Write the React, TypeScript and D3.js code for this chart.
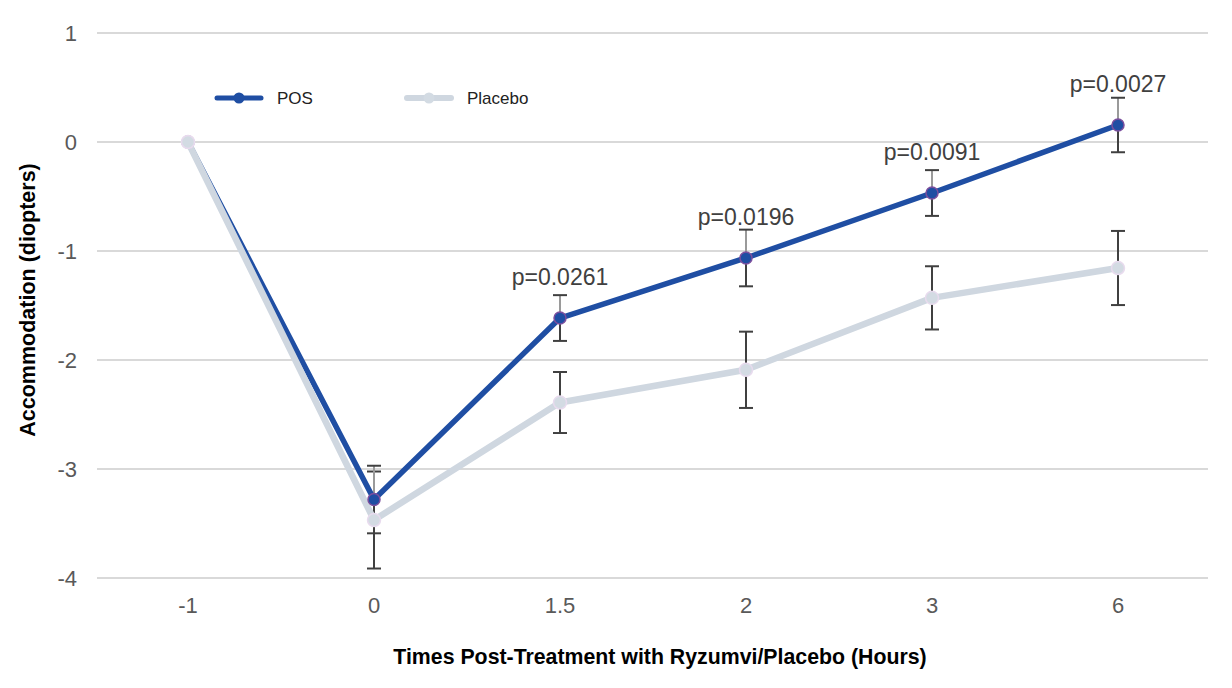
import { useEffect, useRef } from 'react';
import * as d3 from 'd3';

// time points (hours) shown as categories on the x axis
const timePoints = ['-1', '0', '1.5', '2', '3', '6'];

// mean change in accommodation (diopters)
const posMeans = [0, -3.28, -1.615, -1.064, -0.468, 0.156];
const placeboMeans = [0, -3.468, -2.39, -2.09, -1.43, -1.156];

// half-width of the error bars (diopters); null = no bar
const posErrors = [null, 0.31, 0.21, 0.26, 0.21, 0.25];
const placeboErrors = [null, 0.445, 0.28, 0.35, 0.29, 0.34];

// p-values written above the POS points
const pValues = [null, null, 'p=0.0261', 'p=0.0196', 'p=0.0091', 'p=0.0027'];

const yTicks = [1, 0, -1, -2, -3, -4];

const POS_COLOR = '#1f4ea3';
const PLACEBO_COLOR = '#cfd7e0';
const FONT = 'Arial, "Liberation Sans", sans-serif';

const WIDTH = 1232;
const HEIGHT = 688;

const App = () => {
  const svgRef = useRef<SVGSVGElement>(null);

  useEffect(() => {
    if (!svgRef.current) return;
    const svg = d3.select(svgRef.current);
    svg.selectAll('*').remove();

    const x = d3.scalePoint<string>()
      .domain(timePoints)
      .range([95, 1211])
      .padding(0.5);

    const y = d3.scaleLinear()
      .domain([-4, 1])
      .range([578, 33]);

    svg.append('rect')
      .attr('width', WIDTH)
      .attr('height', HEIGHT)
      .attr('fill', '#fff');

    // gridlines
    svg.append('g')
      .selectAll('line')
      .data(yTicks)
      .enter()
      .append('line')
      .attr('x1', 97)
      .attr('x2', 1208)
      .attr('y1', d => y(d))
      .attr('y2', d => y(d))
      .attr('stroke', '#d9d9d9')
      .attr('stroke-width', 2);

    // y tick labels
    svg.append('g')
      .selectAll('text')
      .data(yTicks)
      .enter()
      .append('text')
      .attr('x', 77)
      .attr('y', d => y(d))
      .attr('dy', '0.36em')
      .attr('text-anchor', 'end')
      .attr('font-family', FONT)
      .attr('font-size', 22)
      .attr('fill', '#595959')
      .text(d => d);

    // x tick labels
    svg.append('g')
      .selectAll('text')
      .data(timePoints)
      .enter()
      .append('text')
      .attr('x', d => x(d) || 0)
      .attr('y', 613)
      .attr('text-anchor', 'middle')
      .attr('font-family', FONT)
      .attr('font-size', 22)
      .attr('fill', '#595959')
      .text(d => d);

    // axis titles
    svg.append('text')
      .attr('x', 660)
      .attr('y', 664)
      .attr('text-anchor', 'middle')
      .attr('font-family', FONT)
      .attr('font-size', 21.3)
      .attr('font-weight', 'bold')
      .attr('fill', '#000')
      .text('Times Post-Treatment with Ryzumvi/Placebo (Hours)');

    svg.append('text')
      .attr('transform', 'translate(35,300) rotate(-90)')
      .attr('text-anchor', 'middle')
      .attr('font-family', FONT)
      .attr('font-size', 21.5)
      .attr('font-weight', 'bold')
      .attr('fill', '#000')
      .text('Accommodation (diopters)');

    // error bars
    const drawErrors = (means: number[], errors: (number | null)[], upColor: string) => {
      const g = svg.append('g');
      timePoints.forEach((t, i) => {
        const e = errors[i];
        if (e == null) return;
        const cx = x(t) || 0;
        const parts = [
          { from: means[i], to: means[i] + e, color: upColor },
          { from: means[i], to: means[i] - e, color: '#404040' }
        ];
        parts.forEach(p => {
          g.append('line')
            .attr('x1', cx).attr('x2', cx)
            .attr('y1', y(p.from)).attr('y2', y(p.to))
            .attr('stroke', p.color)
            .attr('stroke-width', 2);
          g.append('line')
            .attr('x1', cx - 7).attr('x2', cx + 7)
            .attr('y1', y(p.to)).attr('y2', y(p.to))
            .attr('stroke', '#404040')
            .attr('stroke-width', 2);
        });
      });
    };
    drawErrors(placeboMeans, placeboErrors, '#404040');
    drawErrors(posMeans, posErrors, '#9a9a9a');

    const line = d3.line<number>()
      .x((_, i) => x(timePoints[i]) || 0)
      .y(d => y(d));

    svg.append('path')
      .datum(posMeans)
      .attr('d', line)
      .attr('fill', 'none')
      .attr('stroke', POS_COLOR)
      .attr('stroke-width', 5.5)
      .attr('stroke-linejoin', 'round');

    svg.append('path')
      .datum(placeboMeans)
      .attr('d', line)
      .attr('fill', 'none')
      .attr('stroke', PLACEBO_COLOR)
      .attr('stroke-width', 6.5)
      .attr('stroke-linejoin', 'round');

    // points
    svg.append('g')
      .selectAll('circle')
      .data(posMeans)
      .enter()
      .append('circle')
      .attr('cx', (_, i) => x(timePoints[i]) || 0)
      .attr('cy', d => y(d))
      .attr('r', 6)
      .attr('fill', POS_COLOR)
      .attr('stroke', '#7b4f9e')
      .attr('stroke-width', 1.5);

    svg.append('g')
      .selectAll('circle')
      .data(placeboMeans)
      .enter()
      .append('circle')
      .attr('cx', (_, i) => x(timePoints[i]) || 0)
      .attr('cy', d => y(d))
      .attr('r', 6.5)
      .attr('fill', '#d3dbe3')
      .attr('stroke', '#e8dbee')
      .attr('stroke-width', 1.5);

    // p-value labels
    svg.append('g')
      .selectAll('text')
      .data(pValues.map((p, i) => ({ p, i })).filter(d => d.p))
      .enter()
      .append('text')
      .attr('x', d => x(timePoints[d.i]) || 0)
      .attr('y', d => y(posMeans[d.i]) - 33)
      .attr('text-anchor', 'middle')
      .attr('font-family', FONT)
      .attr('font-size', 23)
      .attr('fill', '#404040')
      .text(d => d.p as string);

    // legend
    const legend = [
      { label: 'POS', color: POS_COLOR, x: 217, width: 5, dot: '#1f4ea3' },
      { label: 'Placebo', color: PLACEBO_COLOR, x: 407, width: 6, dot: '#d3dbe3' }
    ];
    const lg = svg.append('g');
    legend.forEach(l => {
      lg.append('line')
        .attr('x1', l.x).attr('x2', l.x + 44)
        .attr('y1', 98).attr('y2', 98)
        .attr('stroke', l.color)
        .attr('stroke-width', l.width)
        .attr('stroke-linecap', 'round');
      lg.append('circle')
        .attr('cx', l.x + 22)
        .attr('cy', 98)
        .attr('r', 5.5)
        .attr('fill', l.dot);
      lg.append('text')
        .attr('x', l.x + 60)
        .attr('y', 98)
        .attr('dy', '0.36em')
        .attr('font-family', FONT)
        .attr('font-size', 17)
        .attr('fill', '#222')
        .text(l.label);
    });
  }, []);

  return (
    <svg
      ref={svgRef}
      width={WIDTH}
      height={HEIGHT}
      style={{ position: 'absolute', left: 0, top: 0 }}
    />
  );
};

export default App;
